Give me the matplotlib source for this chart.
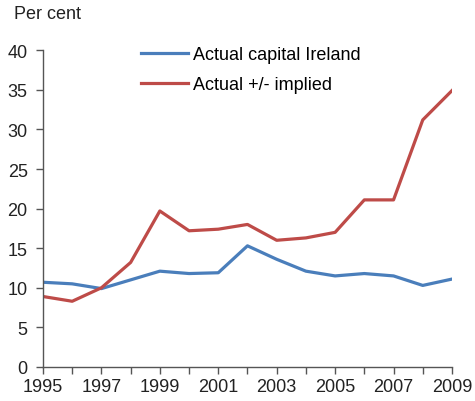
import matplotlib
matplotlib.use('Agg')
import matplotlib.pyplot as plt

years = list(range(1995, 2010))
capital_ireland = [10.7, 10.5, 9.9, 11.0, 12.1, 11.8, 11.9, 15.3, 13.6, 12.1, 11.5, 11.8, 11.5, 10.3, 11.1]
actual_implied = [8.9, 8.3, 10.0, 13.2, 19.7, 17.2, 17.4, 18.0, 16.0, 16.3, 17.0, 21.1, 21.1, 31.2, 34.9]

plt.rcParams['font.family'] = ['Liberation Sans', 'DejaVu Sans']
plt.rcParams['font.size'] = 13

fig = plt.figure(figsize=(4.75, 4.02), dpi=100)
ax = fig.add_axes([0.0905, 0.0846, 0.861, 0.788])

ax.plot(years, capital_ireland, color='#4a7ebb', lw=2.3, label='Actual capital Ireland')
ax.plot(years, actual_implied, color='#be4b48', lw=2.3, label='Actual +/- implied')

ax.set_xlim(1995, 2009)
ax.set_ylim(0, 40)
ax.set_yticks(range(0, 41, 5))
ax.set_xticks(range(1995, 2010))
ax.set_xticklabels([str(y) if (y - 1995) % 2 == 0 else '' for y in years])

for s in ['top', 'right']:
    ax.spines[s].set_visible(False)
for s in ['left', 'bottom']:
    ax.spines[s].set_color('#555555')
    ax.spines[s].set_linewidth(1.0)
ax.tick_params(direction='out', length=5, width=1.0, color='#555555', colors='#222222')
ax.tick_params(axis='x', pad=3)
ax.tick_params(axis='y', pad=6)

ax.legend(loc='upper left', bbox_to_anchor=(0.2, 1.065), frameon=False,
          handlelength=2.6, handletextpad=0.3, labelspacing=0.75, fontsize=13)

fig.text(0.03, 0.965, 'Per cent', ha='left', va='center', fontsize=13, color='#222222')

plt.savefig('out.png', dpi=100)
